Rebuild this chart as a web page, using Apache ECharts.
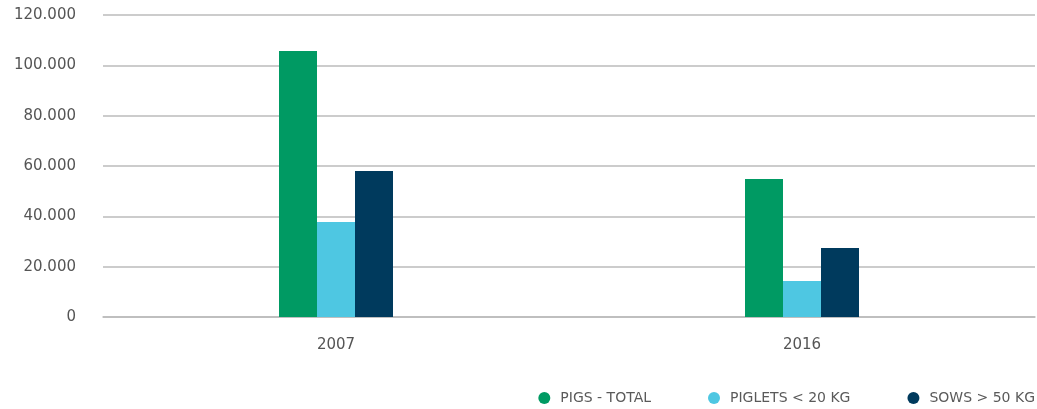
<!DOCTYPE html>
<html>
<head>
<meta charset="utf-8">
<script src="https://cdn.jsdelivr.net/npm/echarts@6/dist/echarts.min.js"></script>
<style>
  html, body { margin: 0; padding: 0; background: #fff; }
  #chart { width: 1037px; height: 409px; }
</style>
</head>
<body>
<div id="chart"></div>
<script>
// Pig population by year
const years = ['2007', '2016'];
const seriesNames = ['PIGS - TOTAL', 'PIGLETS < 20 KG', 'SOWS > 50 KG'];
const pigsTotal = [105700, 54800];
const piglets = [37700, 14300];
const sows = [58000, 27400];
const yTicks = [0, 20000, 40000, 60000, 80000, 100000, 120000];

const colors = ['#009A63', '#4EC7E2', '#003A5D'];
const font = '"DejaVu Sans", "Noto Sans", sans-serif';

function fmtThousands(v) {
  return String(v).replace(/\B(?=(\d{3})+(?!\d))/g, '.');
}

const chart = echarts.init(document.getElementById('chart'), null, { renderer: 'canvas' });
chart.setOption({
  animation: false,
  color: colors,
  grid: { left: 103, right: 2, top: 15, bottom: 92, containLabel: false },
  legend: {
    right: 2,
    top: 391,
    padding: 0,
    icon: 'circle',
    itemWidth: 12,
    itemHeight: 12,
    itemGap: 57,
    textStyle: { color: '#5a5a5a', fontSize: 14, fontFamily: font, padding: [0, 0, 0, 5] },
    data: seriesNames
  },
  xAxis: {
    type: 'category',
    data: years,
    axisLine: { show: true, lineStyle: { color: '#bbb', width: 1.5 } },
    axisTick: { show: false },
    axisLabel: { color: '#555', fontSize: 15, fontFamily: font, margin: 21 }
  },
  yAxis: {
    type: 'value',
    min: yTicks[0],
    max: yTicks[yTicks.length - 1],
    interval: 20000,
    axisLine: { show: false },
    axisTick: { show: false },
    splitLine: { lineStyle: { color: '#bbb', width: 1.5 } },
    axisLabel: {
      color: '#555', fontSize: 15, fontFamily: font, margin: 27,
      formatter: fmtThousands
    }
  },
  series: [
    { name: seriesNames[0], type: 'bar', data: pigsTotal, barWidth: 38, barGap: '0%' },
    { name: seriesNames[1], type: 'bar', data: piglets, barWidth: 38, barGap: '0%' },
    { name: seriesNames[2], type: 'bar', data: sows, barWidth: 38, barGap: '0%' }
  ]
});
</script>
</body>
</html>
